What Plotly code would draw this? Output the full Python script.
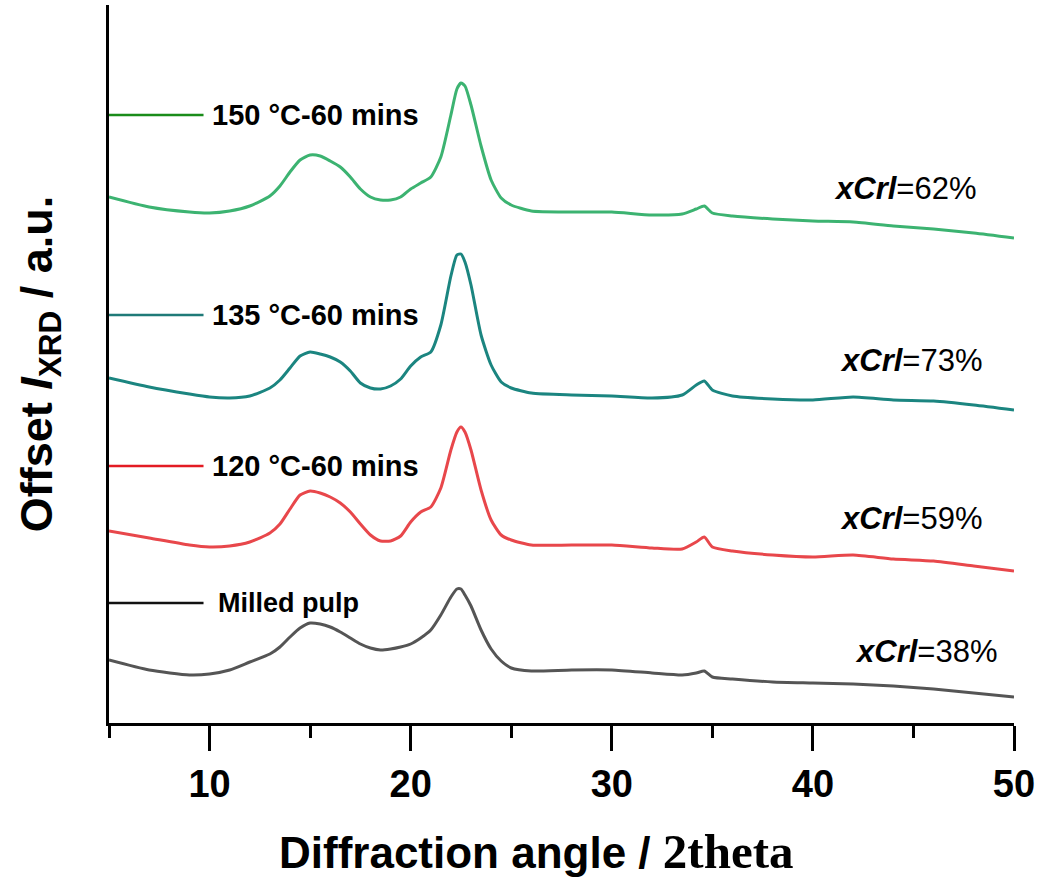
import plotly.graph_objects as go

# 2theta sampling positions (degrees)
two_theta = [5, 7, 9, 10, 11, 12, 13, 13.5, 14, 14.5, 15, 15.5, 16, 16.5, 17, 17.5,
             18, 18.5, 19, 19.5, 20, 20.5, 21, 21.5, 22, 22.3, 22.5, 22.7, 23, 23.5,
             24, 24.5, 25, 26, 28, 30, 32, 33.5, 34.2, 34.6, 35, 36, 38, 40, 42, 44,
             46, 48, 50]

# offset intensities (a.u.), one list per sample
milled_pulp = [63, 53, 48, 49, 53, 61, 69, 76, 86, 95, 100, 99, 96, 91, 85, 79,
               75, 73, 74, 76, 79, 85, 93, 108, 126, 134, 134, 128, 117, 93,
               74, 62, 55, 52, 53, 53, 50, 48, 50, 52, 46, 44, 41, 40, 39, 37,
               34, 30, 26]
t120_60 = [192, 185, 178, 176, 177, 181, 190, 199, 214, 228, 232, 230, 226, 220, 211, 199,
           188, 182, 182, 187, 201, 211, 216, 235, 273, 291, 296, 291, 273, 233,
           203, 188, 183, 178, 178, 178, 175, 174, 181, 186, 176, 172, 168, 166, 168, 164,
           162, 157, 152]
t135_60 = [345, 336, 329, 326, 325, 327, 335, 343, 355, 367, 371, 369, 366, 361, 352, 340,
           335, 334, 337, 344, 357, 366, 371, 398, 447, 468, 469, 461, 438, 388,
           358, 341, 335, 330, 328, 327, 325, 328, 338, 342, 333, 327, 324, 323, 326, 323,
           322, 318, 313]
t150_60 = [526, 516, 511, 510, 512, 517, 527, 537, 551, 563, 568, 567, 562, 556, 546, 534,
           526, 523, 523, 526, 534, 540, 546, 566, 608, 634, 640, 637, 618, 577,
           543, 525, 518, 512, 511, 511, 508, 509, 514, 517, 510, 507, 504, 502, 501, 497,
           494, 490, 485]

series_names = ["Milled pulp", "120 °C-60 mins", "135 °C-60 mins", "150 °C-60 mins"]
series_values = [milled_pulp, t120_60, t135_60, t150_60]
curve_colors = ["#555555", "#e8474b", "#1b8580", "#3cb371"]
key_colors = ["#111111", "#e31b23", "#1f7a78", "#1a8c1a"]
key_levels = [120, 257, 408, 608]
crystallinity = ["38%", "59%", "73%", "62%"]
crl_pos = [(45.6, 72), (44.9, 205), (44.9, 363), (44.6, 535)]

fig = go.Figure()
for name, vals, col in zip(series_names, series_values, curve_colors):
    fig.add_trace(go.Scatter(x=two_theta, y=vals, mode="lines", name=name,
                             line=dict(color=col, width=3, shape="spline", smoothing=0.6),
                             showlegend=False))

# hand-placed key: short coloured line + bold label
for name, col, lvl in zip(series_names, key_colors, key_levels):
    fig.add_shape(type="line", x0=5, x1=9.7, y0=lvl, y1=lvl, xref="x", yref="y",
                  line=dict(color=col, width=2.5))
    fig.add_annotation(x=10.0 if name != "Milled pulp" else 10.3, y=lvl, xref="x", yref="y",
                       text=f"<b>{name}</b>", showarrow=False, xanchor="left", yanchor="middle",
                       font=dict(family="Liberation Sans", size=29 if name != "Milled pulp" else 27,
                                 color="black"))

# crystallinity index labels
for val, (px, py) in zip(crystallinity, crl_pos):
    fig.add_annotation(x=px, y=py, xref="x", yref="y",
                       text=f"<b><i>xCrl</i></b>={val}", showarrow=False,
                       xanchor="center", yanchor="middle",
                       font=dict(family="Liberation Sans", size=31, color="black"))

# x-axis caption: sans-serif words followed by a serif "2theta"
fig.add_annotation(
    x=0.472, y=-0.179, xref="paper", yref="paper", showarrow=False,
    xanchor="center", yanchor="middle",
    text=("<b>Diffraction angle / </b>"
          "<span style=\"font-family:'Liberation Serif'; font-size:49px\"><b>2theta</b></span>"),
    font=dict(family="Liberation Sans", size=44, color="black"),
)

fig.update_layout(
    width=1045, height=881,
    margin=dict(l=109, r=31, t=5, b=158),
    plot_bgcolor="white", paper_bgcolor="white",
    font=dict(family="Liberation Sans", color="black"),
    xaxis=dict(
        range=[5, 50], tick0=10, dtick=10, ticks="outside", ticklen=25, tickwidth=3,
        tickcolor="black", showline=True, linecolor="black", linewidth=3,
        showgrid=False, zeroline=False,
        tickfont=dict(family="Liberation Sans", size=38, color="black"),
        tickprefix="<b>", ticksuffix="</b>",
        minor=dict(dtick=5, ticks="outside", ticklen=12, tickwidth=3, tickcolor="black"),
    ),
    yaxis=dict(
        range=[0, 718], showticklabels=False, ticks="", showline=True,
        linecolor="black", linewidth=3, showgrid=False, zeroline=False,
        title=dict(text="<b>Offset <i>I</i><sub>XRD</sub> / a.u.</b>",
                   font=dict(family="Liberation Sans", size=45, color="black"), standoff=40),
    ),
)

fig.write_html("out.html")
